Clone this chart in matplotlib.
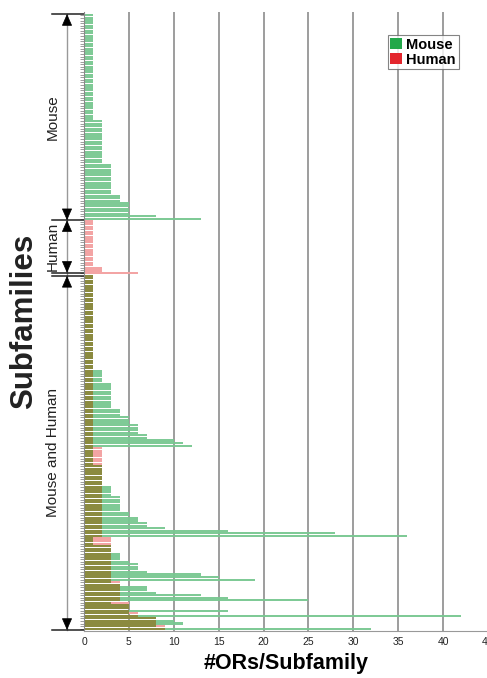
import matplotlib
matplotlib.use('Agg')
import matplotlib.pyplot as plt
import numpy as np
from matplotlib.patches import Patch
from matplotlib.transforms import blended_transform_factory

plt.rcParams['font.family'] = ['Liberation Sans', 'DejaVu Sans']

# ---------------- data (top to bottom) ----------------
# Mouse-only subfamilies: #ORs per subfamily
mouse_only = [1, 1, 1, 1, 1, 1, 1, 1, 1, 1,
              1, 1, 1, 1, 1, 1, 1, 1, 1, 1,
              1, 1, 1, 1, 1, 1, 1, 1, 1, 1,
              1, 1, 1, 1, 1, 1, 1, 1, 1, 1,
              1,
              2, 2, 2, 2, 2, 2, 2, 2, 2, 2,
              2, 2, 2, 2, 2, 2, 2,
              3, 3, 3, 3, 3, 3, 3, 3, 3, 3, 3, 3,
              4, 4, 4,
              5, 5, 5, 5, 5,
              8, 13]

# Human-only subfamilies
human_only = [1, 1, 1, 1, 1, 1, 1, 1, 1, 1,
              1, 1, 1, 1, 1, 1, 1, 1,
              2, 2, 6]

# Subfamilies shared by mouse and human: mouse counts
shared_mouse = [1, 1, 1, 1, 1, 1, 1, 1, 1, 1,
                1, 1, 1, 1, 1, 1, 1, 1, 1, 1,
                1, 1, 1, 1, 1, 1, 1, 1, 1, 1,
                1, 1, 1, 1, 1, 1, 1,
                2, 2, 2, 2, 2,
                3, 3, 3, 3, 3, 3, 3, 3, 3, 3,
                4, 4, 4, 5, 5, 5, 6, 6, 6, 6, 7, 7,
                10, 11, 12,
                1, 1, 1, 1, 1, 1, 1,
                2, 2, 2, 2, 2, 2, 2, 2,
                3, 3, 3, 3,
                4, 4, 4, 4, 4, 4,
                5, 5, 6, 6, 7, 7, 9, 16, 28, 36,
                1, 1, 1, 3, 3, 3, 4, 4, 4, 5, 6, 6, 6, 7, 13, 15, 19,
                3, 4, 7, 7, 8, 13, 16, 25,
                3, 5, 5, 16,
                5, 42,
                8, 10, 11,
                8, 32]

# Shared subfamilies: human counts
shared_human = [1, 1, 1, 1, 1, 1, 1, 1, 1, 1,
                1, 1, 1, 1, 1, 1, 1, 1, 1, 1,
                1, 1, 1, 1, 1, 1, 1, 1, 1, 1,
                1, 1, 1, 1, 1, 1, 1, 1, 1, 1,
                1, 1, 1, 1, 1, 1, 1, 1, 1, 1,
                1, 1, 1, 1, 1, 1, 1, 1, 1, 1,
                1, 1, 1, 1, 1, 1, 1,
                2, 2, 2, 2, 2, 2, 2, 2, 2, 2,
                2, 2, 2, 2, 2, 2, 2, 2, 2, 2,
                2, 2, 2, 2, 2, 2, 2, 2, 2, 2,
                2, 2, 2, 2, 2,
                3, 3, 3, 3, 3, 3, 3, 3, 3, 3, 3, 3, 3, 3, 3, 3, 3,
                4, 4, 4, 4, 4, 4, 4, 4,
                5, 5, 5, 5,
                6, 6,
                8, 8, 8,
                9, 9]

section_labels = ['Mouse', 'Human', 'Mouse and Human']
x_ticks = [0, 5, 10, 15, 20, 25, 30, 35, 40, 45]
x_tick_labels = ['0', '5', '10', '15', '20', '25', '30', '35', '40', '45']
legend_labels = ['Mouse', 'Human']

# ---------------- assemble ----------------
mouse = np.array(mouse_only + [0] * len(human_only) + shared_mouse, dtype=float)
human = np.array([0] * len(mouse_only) + human_only + shared_human, dtype=float)
N = len(mouse)
rows = np.arange(N)
overlap = np.minimum(mouse, human)

sizes = [len(mouse_only), len(human_only), len(shared_mouse)]
bounds = np.concatenate([[0], np.cumsum(sizes)]) - 0.5

GREEN = '#78c891'
PINK = '#f3a4a4'
OLIVE = '#8b8a40'

fig = plt.figure(figsize=(4.87, 6.78), dpi=100)
ax = fig.add_axes([84 / 487, 1 - 631 / 678, 404 / 487, 619 / 678])

for gx in x_ticks[1:-1]:
    ax.axvline(gx, color='#8c8c8c', lw=1.2, zorder=0)

bh = 0.84
ax.barh(rows, overlap, height=bh, color=OLIVE, zorder=2, linewidth=0)
ax.barh(rows, mouse - overlap, left=overlap, height=bh, color=GREEN, zorder=2, linewidth=0, alpha=0.95)
ax.barh(rows, human - overlap, left=overlap, height=bh, color=PINK, zorder=2, linewidth=0)

ax.set_xlim(0, 45)
ax.set_ylim(N - 0.1, -1.3)
ax.set_xticks(x_ticks)
ax.set_xticklabels(x_tick_labels, fontsize=7.5, color='#222222')
ax.tick_params(axis='x', length=0, pad=4)
ax.set_yticks(rows)
ax.set_yticklabels([])
ax.tick_params(axis='y', length=3, width=0.5, color='#777777', direction='out')

for s in ['top', 'right']:
    ax.spines[s].set_visible(False)
ax.spines['left'].set_color('#888888')
ax.spines['left'].set_linewidth(0.8)
ax.spines['bottom'].set_color('#999999')
ax.spines['bottom'].set_linewidth(0.8)

ax.set_xlabel('#ORs/Subfamily', fontsize=15.5, fontweight='bold', labelpad=5)

# ---------------- brackets ----------------
tr = blended_transform_factory(ax.transAxes, ax.transData)
xv = (67 - 84) / 404
xl0 = (52 - 84) / 404
ax.plot([xv, xv], [bounds[0], bounds[-1]], transform=tr, color='#999999', lw=1.0, clip_on=False)

line_ys = [bounds[0], bounds[1], bounds[2] - 0.6, bounds[2] + 0.6, bounds[3]]
for ly in line_ys:
    ax.plot([xl0, 0], [ly, ly], transform=tr, color='#222222', lw=1.1, clip_on=False)

ap = dict(arrowstyle='-|>,head_length=0.75,head_width=0.33', color='black',
          lw=0.5, shrinkA=0, shrinkB=0, mutation_scale=10)
ends = [(bounds[0], bounds[1]), (bounds[1], bounds[2] - 0.6), (bounds[2] + 0.6, bounds[3])]
for (top, bot), lab in zip(ends, section_labels):
    ax.annotate('', xy=(xv, top), xycoords=tr, xytext=(0, -7.5), textcoords='offset points',
                arrowprops=ap, annotation_clip=False)
    ax.annotate('', xy=(xv, bot), xycoords=tr, xytext=(0, 7.5), textcoords='offset points',
                arrowprops=ap, annotation_clip=False)
    ax.text((53 - 84) / 404, (top + bot) / 2, lab, transform=tr, rotation=90,
            ha='center', va='center', fontsize=11, color='#222222', clip_on=False)

ax.text((24 - 84) / 404, 0.5, 'Subfamilies', transform=ax.transAxes, rotation=90,
        ha='center', va='center', fontsize=22.5, fontweight='bold', color='#222222')

# ---------------- legend ----------------
handles = [Patch(facecolor='#22a84a', edgecolor='none'),
           Patch(facecolor='#e3262d', edgecolor='none')]
leg = ax.legend(handles, legend_labels, loc='upper right', bbox_to_anchor=(0.928, 0.963),
                prop={'weight': 'bold', 'size': 10.5}, frameon=True, fancybox=False,
                handlelength=0.8, handleheight=0.8, handletextpad=0.3,
                labelspacing=0.05, borderpad=0.2, borderaxespad=0)
leg.get_frame().set_edgecolor('#666666')
leg.get_frame().set_linewidth(0.8)

fig.savefig('out.png', dpi=100)
